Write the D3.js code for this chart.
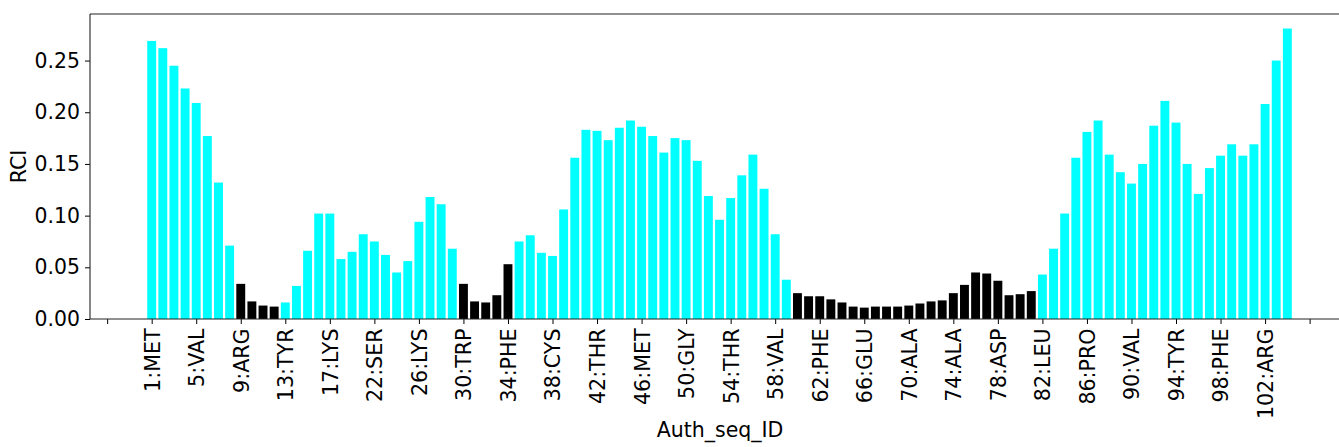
<!DOCTYPE html>
<html><head><meta charset="utf-8">
<script src="https://cdn.jsdelivr.net/npm/d3@7"></script>
<style>body{margin:0;background:#fff;} text{font-family:"DejaVu Sans",sans-serif;fill:#000;}</style>
</head><body>
<svg id="chart" width="1339" height="447"></svg>
<script>
// RCI value per residue (bar order)
const values = [
 0.269,0.262,0.245,0.223,0.209,0.177,0.132,0.071,0.034,0.017,
 0.013,0.012,0.016,0.032,0.066,0.102,0.102,0.058,0.065,0.082,
 0.075,0.062,0.045,0.056,0.094,0.118,0.111,0.068,0.034,0.017,
 0.016,0.023,0.053,0.075,0.081,0.064,0.061,0.106,0.156,0.183,
 0.182,0.173,0.185,0.192,0.186,0.177,0.161,0.175,0.173,0.153,
 0.119,0.096,0.117,0.139,0.159,0.126,0.082,0.038,0.025,0.022,
 0.022,0.019,0.016,0.012,0.011,0.012,0.012,0.012,0.013,0.015,
 0.017,0.018,0.025,0.033,0.045,0.044,0.037,0.023,0.024,0.027,
 0.043,0.068,0.102,0.156,0.181,0.192,0.159,0.142,0.131,0.150,
 0.187,0.211,0.190,0.150,0.121,0.146,0.158,0.169,0.158,0.169,
 0.208,0.250,0.281
];
// bar indices drawn in black (low-RCI stretches)
const blackBars = [8,9,10,11,28,29,30,31,32,58,59,60,61,62,63,64,65,66,67,68,69,70,71,72,73,74,75,76,77,78,79];
// x tick positions (bar index) and their labels
const xTickPos = [-4,0,4,8,12,16,20,24,28,32,36,40,44,48,52,56,60,64,68,72,76,80,84,88,92,96,100,104];
const xTickLabels = ["","1:MET","5:VAL","9:ARG","13:TYR","17:LYS","22:SER","26:LYS","30:TRP","34:PHE","38:CYS","42:THR","46:MET","50:GLY","54:THR","58:VAL","62:PHE","66:GLU","70:ALA","74:ALA","78:ASP","82:LEU","86:PRO","90:VAL","94:TYR","98:PHE","102:ARG",""];
const yTicks = [0,0.05,0.10,0.15,0.20,0.25];
const yTickLabels = ["0.00","0.05","0.10","0.15","0.20","0.25"];

const svg = d3.select("#chart");
const plotLeft = 90, plotTop = 14, plotBottom = 319;
const n = values.length;
const lo = -0.4, hi = n - 1 + 0.4, m = (hi - lo) * 0.05;
const pxPerUnit = 11.134;
const x = d3.scaleLinear().domain([lo - m, hi + m]).range([plotLeft, plotLeft + (hi - lo + 2*m) * pxPerUnit]);
const ymax = d3.max(values) * 1.05;
const y = d3.scaleLinear().domain([0, ymax]).range([plotBottom, plotTop]);
const plotRight = x.range()[1];
const bw = x(0.8) - x(0);
const blackSet = new Set(blackBars);

svg.append("g").selectAll("rect").data(values).join("rect")
  .attr("x", (d,i) => x(i - 0.4))
  .attr("width", bw)
  .attr("y", d => y(d))
  .attr("height", d => y(0) - y(d))
  .attr("fill", (d,i) => blackSet.has(i) ? "#000000" : "#00ffff");

// x axis
const xAxis = d3.axisBottom(x).tickValues(xTickPos)
  .tickFormat((d,i) => xTickLabels[i]).tickSizeOuter(0).tickSize(5).tickPadding(4);
const gx = svg.append("g").attr("transform", `translate(0,${plotBottom})`).call(xAxis);
gx.select(".domain").remove();
gx.selectAll(".tick line").attr("stroke", "#000").attr("stroke-width", 1);
gx.selectAll(".tick text")
  .attr("font-size", 20.6).attr("font-family", "DejaVu Sans")
  .attr("text-anchor", "end")
  .attr("transform", "rotate(-90)")
  .attr("x", -9.5).attr("y", 0).attr("dy", "0.36em");

// y axis
const yAxis = d3.axisLeft(y).tickValues(yTicks)
  .tickFormat((d,i) => yTickLabels[i]).tickSizeOuter(0).tickSize(5).tickPadding(5);
const gy = svg.append("g").attr("transform", `translate(${plotLeft},0)`).call(yAxis);
gy.select(".domain").remove();
gy.selectAll(".tick line").attr("stroke", "#000").attr("stroke-width", 1);
gy.selectAll(".tick text").attr("font-size", 20.4).attr("font-family", "DejaVu Sans");

// frame
const frame = svg.append("g").attr("fill", "none").attr("stroke", "#222").attr("stroke-width", 1.1);
frame.append("line").attr("x1", plotLeft).attr("x2", plotLeft).attr("y1", plotTop).attr("y2", plotBottom);
frame.append("line").attr("x1", plotLeft).attr("x2", plotRight).attr("y1", plotBottom).attr("y2", plotBottom);
frame.append("line").attr("x1", plotLeft).attr("x2", plotRight).attr("y1", plotTop).attr("y2", plotTop);
frame.append("line").attr("x1", plotRight).attr("x2", plotRight).attr("y1", plotTop).attr("y2", plotBottom);

// axis labels
svg.append("text").attr("x", 720).attr("y", 437).attr("text-anchor", "middle")
  .attr("font-size", 20.5).text("Auth_seq_ID");
svg.append("text").attr("transform", `translate(26,${(plotTop+plotBottom)/2}) rotate(-90)`)
  .attr("text-anchor", "middle").attr("font-size", 20.5).text("RCI");
</script>
</body></html>
